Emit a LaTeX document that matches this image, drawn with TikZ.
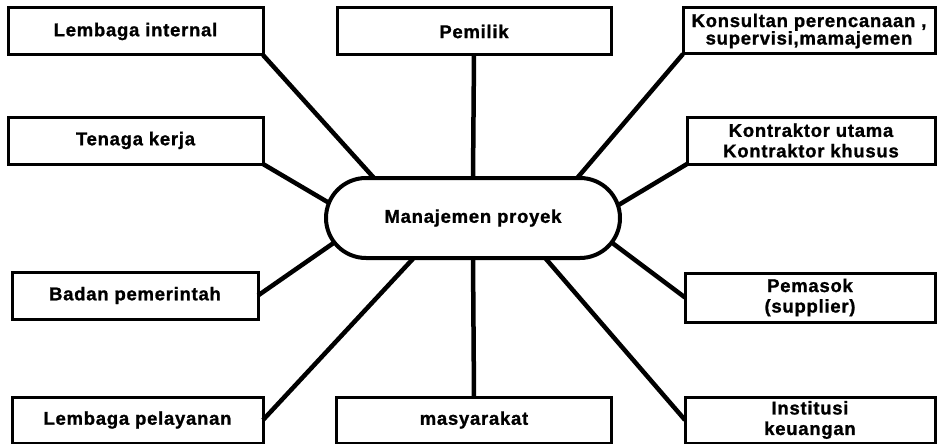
\documentclass[tikz,border=0pt]{standalone}
\usepackage{fontspec}
\setmainfont{Liberation Sans}[LetterSpace=4,BoldFeatures={FakeBold=1.2}]
\usetikzlibrary{shapes.misc}
\begin{document}
\begin{tikzpicture}[x=1pt,y=-1pt,
  lbl/.style={font=\bfseries\fontsize{18.5}{20.5}\selectfont, align=center},
  box/.style={lbl, draw, line width=3pt, inner sep=0pt, outer sep=0pt},
  link/.style={line width=4.5pt}]
\useasboundingbox (0,0) rectangle (937,444);
% central node
\node[lbl, draw, rounded rectangle, line width=4pt, minimum width=294pt, minimum height=80pt, inner sep=0pt, outer sep=0pt] (m) at (473,218) {Manajemen proyek};
% left column
\node[box, minimum width=255pt, minimum height=47pt] (li) at (135.5,31.5) {Lembaga internal};
\node[box, minimum width=255pt, minimum height=47pt] (tk) at (135.5,140.5) {Tenaga kerja};
\node[box, minimum width=246pt, minimum height=47pt] (bp) at (135,295.5) {Badan pemerintah};
\node[box, minimum width=251pt, minimum height=46pt] (lp) at (137.5,420) {Lembaga pelayanan};
% middle column
\node[box, minimum width=274pt, minimum height=47pt] (pm) at (474,31.5) {Pemilik};
\node[box, minimum width=275pt, minimum height=46pt] (ms) at (474,420) {masyarakat};
% right column
\node[box, minimum width=252pt, minimum height=46pt, font=\bfseries\fontsize{18.5}{17.5}\selectfont] (ks) at (809,31) {Konsultan perencanaan ,\\supervisi,mamajemen};
\node[box, minimum width=248pt, minimum height=47pt] (kt) at (811,140.5) {Kontraktor utama\\Kontraktor khusus};
\node[box, minimum width=250pt, minimum height=49pt] (ps) at (810,297.5) {Pemasok\\(supplier)};
\node[box, minimum width=250pt, minimum height=46pt] (iu) at (810,420) {Institusi\\keuangan};
% connectors
\draw[link] (li.south east) -- (m.158.4);
\draw[link] (tk.south east) -- (m.174.8);
\draw[link] (bp.east) -- (m.190.2);
\draw[link] (lp.east) -- (m.214.6);
\draw[link] (pm.south) -- (m.north);
\draw[link] (ms.north) -- (m.south);
\draw[link] (ks.south west) -- (m.21.8);
\draw[link] (kt.south west) -- (m.5.6);
\draw[link] (ps.west) -- (m.350.2);
\draw[link] (iu.west) -- (m.331);
\end{tikzpicture}
\end{document}
